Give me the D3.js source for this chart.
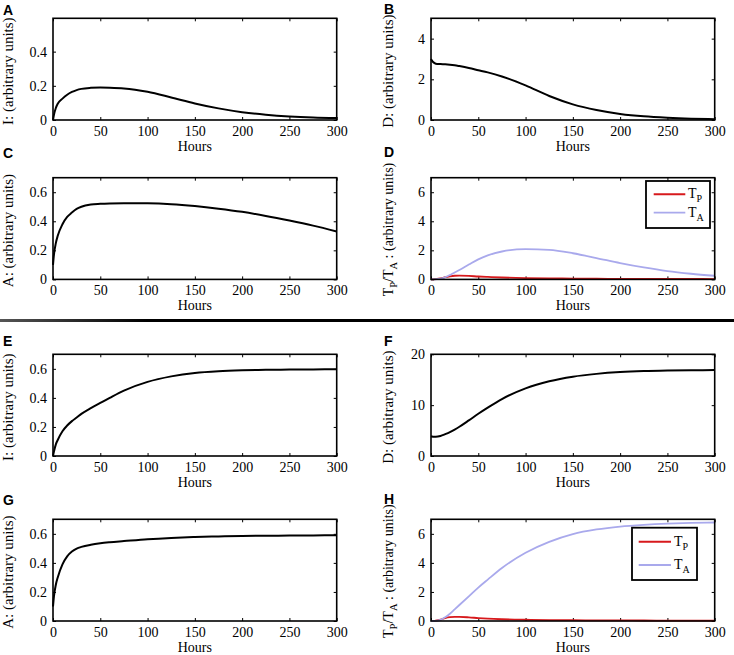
<!DOCTYPE html>
<html>
<head>
<meta charset="utf-8">
<script src="https://cdn.jsdelivr.net/npm/d3@7"></script>
<style>
  html, body { margin: 0; padding: 0; background: #fff; }
  svg { display: block; }
  text { font-family: "Liberation Serif", "Times New Roman", serif; }
</style>
</head>
<body>
<svg id="chart" width="734" height="655"></svg>
<script>
// ---------- data ----------
const hours = [0, 1, 3, 5, 10, 15, 20, 25, 30, 40, 50, 60, 75, 100, 125, 150, 175, 200, 225, 250, 275, 300];
const xTicks = [0, 50, 100, 150, 200, 250, 300];

const panelA_I = [0, 0.03, 0.07, 0.095, 0.125, 0.148, 0.164, 0.175, 0.182, 0.188, 0.19, 0.189, 0.185, 0.165, 0.132, 0.097, 0.068, 0.046, 0.031, 0.021, 0.015, 0.012];
const panelB_D = [3.0, 2.92, 2.82, 2.77, 2.75, 2.74, 2.72, 2.69, 2.65, 2.56, 2.45, 2.34, 2.14, 1.7, 1.18, 0.77, 0.49, 0.3, 0.18, 0.11, 0.065, 0.04];
const panelC_A = [0.1, 0.17, 0.25, 0.3, 0.38, 0.43, 0.46, 0.485, 0.5, 0.515, 0.52, 0.523, 0.525, 0.524, 0.518, 0.505, 0.487, 0.465, 0.437, 0.405, 0.37, 0.33];
const panelD_TP = [0, 0, 0.005, 0.02, 0.07, 0.15, 0.21, 0.25, 0.26, 0.24, 0.2, 0.17, 0.13, 0.09, 0.07, 0.055, 0.045, 0.04, 0.035, 0.03, 0.03, 0.025];
const panelD_TA = [0, 0, 0, 0.01, 0.05, 0.15, 0.3, 0.48, 0.65, 1.02, 1.38, 1.65, 1.92, 2.08, 2.03, 1.8, 1.47, 1.12, 0.82, 0.57, 0.39, 0.25];
const panelE_I = [0, 0.03, 0.08, 0.11, 0.17, 0.21, 0.24, 0.265, 0.29, 0.33, 0.365, 0.4, 0.45, 0.51, 0.548, 0.572, 0.584, 0.59, 0.593, 0.595, 0.596, 0.597];
const panelF_D = [3.9, 3.85, 3.8, 3.8, 3.95, 4.3, 4.7, 5.2, 5.75, 7.0, 8.3, 9.5, 11.2, 13.3, 14.7, 15.6, 16.15, 16.5, 16.7, 16.8, 16.85, 16.9];
const panelG_A = [0.1, 0.17, 0.25, 0.3, 0.39, 0.445, 0.478, 0.498, 0.51, 0.525, 0.535, 0.542, 0.55, 0.563, 0.572, 0.578, 0.582, 0.585, 0.587, 0.588, 0.589, 0.59];
const panelH_TP = [0, 0, 0.01, 0.03, 0.1, 0.2, 0.26, 0.28, 0.28, 0.25, 0.2, 0.16, 0.12, 0.085, 0.065, 0.055, 0.045, 0.04, 0.035, 0.03, 0.03, 0.03];
const panelH_TA = [0, 0, 0, 0.01, 0.08, 0.25, 0.5, 0.8, 1.1, 1.7, 2.3, 2.85, 3.65, 4.7, 5.45, 5.98, 6.3, 6.5, 6.62, 6.7, 6.75, 6.78];

const yTicksA = [0, 0.2, 0.4];
const yTicksFrac = [0, 0.2, 0.4, 0.6];
const yTicksB = [0, 2, 4];
const yTicksT = [0, 2, 4, 6];
const yTicksF = [0, 10, 20];
const legendLabels = ["P", "A"];

// ---------- layout ----------
const svg = d3.select("#chart");
const SERIF = '"Liberation Serif", "Times New Roman", serif';
const SANS = '"Liberation Sans", Arial, sans-serif';
const W = 283.7, H = 101.7;
const colX = [53, 431];
const rowY = [18.3, 177.7, 354.3, 519.3];
const RED = "#d7191c", LAV = "#a9a9ec";

const panels = [
  {letter: "A", col: 0, row: 0, ymax: 0.595, ticks: yTicksA, fmt: d3.format(".1f"), label: "I: (arbitrary units)", series: [{v: panelA_I, c: "#000"}], lx: 3, ly: 15},
  {letter: "B", col: 1, row: 0, ymax: 5, ticks: yTicksB, fmt: d3.format("d"), label: "D: (arbitrary units)", series: [{v: panelB_D, c: "#000"}], lx: 384, ly: 14},
  {letter: "C", col: 0, row: 1, ymax: 0.7, ticks: yTicksFrac, fmt: d3.format(".1f"), label: "A: (arbitrary units)", series: [{v: panelC_A, c: "#000"}], lx: 3, ly: 158},
  {letter: "D", col: 1, row: 1, ymax: 7, ticks: yTicksT, fmt: d3.format("d"), label: "T", series: [{v: panelD_TP, c: RED}, {v: panelD_TA, c: LAV}], lx: 384, ly: 157,
     legend: {x: 646, y: 181, w: 64, h: 47, l1: 194.3, l2: 212.7, lx0: 653.7, lx1: 685.3, tx: 688}},
  {letter: "E", col: 0, row: 2, ymax: 0.7, ticks: yTicksFrac, fmt: d3.format(".1f"), label: "I: (arbitrary units)", series: [{v: panelE_I, c: "#000"}], lx: 3, ly: 346},
  {letter: "F", col: 1, row: 2, ymax: 20, ticks: yTicksF, fmt: d3.format("d"), label: "D: (arbitrary units)", series: [{v: panelF_D, c: "#000"}], lx: 384, ly: 346},
  {letter: "G", col: 0, row: 3, ymax: 0.7, ticks: yTicksFrac, fmt: d3.format(".1f"), label: "A: (arbitrary units)", series: [{v: panelG_A, c: "#000"}], lx: 3, ly: 505},
  {letter: "H", col: 1, row: 3, ymax: 7, ticks: yTicksT, fmt: d3.format("d"), label: "T", series: [{v: panelH_TP, c: RED}, {v: panelH_TA, c: LAV}], lx: 384, ly: 504,
     legend: {x: 632, y: 527.7, w: 65, h: 52.3, l1: 541.7, l2: 565, lx0: 638.7, lx1: 671, tx: 674}}
];

function styleTicks(a) {
  a.select(".domain").remove();
  a.attr("font-family", null).attr("font-size", null);
  a.selectAll("text").style("font-family", SERIF).style("font-size", "14px").attr("fill", "#000");
  a.selectAll("line").attr("stroke", "#000");
}

panels.forEach(p => {
  const x0 = colX[p.col], y0 = rowY[p.row];
  const g = svg.append("g").attr("transform", `translate(${x0},${y0})`);
  const x = d3.scaleLinear().domain([0, 300]).range([0, W]);
  const y = d3.scaleLinear().domain([0, p.ymax]).range([H, 0]);

  // inner ticks (MATLAB style) on all four sides
  const tl = 3;
  g.append("g").attr("transform", `translate(0,${H})`)
    .call(d3.axisBottom(x).tickValues(xTicks).tickSizeInner(-tl).tickSizeOuter(0).tickPadding(6).tickFormat(d3.format("d")))
    .call(styleTicks);
  g.append("g")
    .call(d3.axisTop(x).tickValues(xTicks).tickSizeInner(-tl).tickSizeOuter(0).tickFormat(""))
    .call(styleTicks);
  g.append("g")
    .call(d3.axisLeft(y).tickValues(p.ticks).tickSizeInner(-tl).tickSizeOuter(0).tickPadding(6).tickFormat(d => d === 0 ? "0" : p.fmt(d)))
    .call(styleTicks);
  g.append("g").attr("transform", `translate(${W},0)`)
    .call(d3.axisRight(y).tickValues(p.ticks).tickSizeInner(-tl).tickSizeOuter(0).tickFormat(""))
    .call(styleTicks);

  // lines
  const line = d3.line().x((d, i) => x(hours[i])).y(d => y(d)).curve(d3.curveMonotoneX);
  p.series.forEach(s => {
    g.append("path").datum(s.v).attr("d", line).attr("fill", "none")
      .attr("stroke", s.c).attr("stroke-width", s.c === "#000" ? 2 : 1.8);
  });

  // frame
  g.append("rect").attr("x", 0).attr("y", 0).attr("width", W).attr("height", H)
    .attr("fill", "none").attr("stroke", "#000").attr("stroke-width", 1.6);

  // x label
  g.append("text").attr("x", W / 2).attr("y", H + 31).attr("text-anchor", "middle")
    .style("font-family", SERIF).style("font-size", "14px").text("Hours");

  // y label
  const isT = p.label === "T";
  const off = p.col === 0 ? 40 : 38;
  const yl = g.append("text").attr("transform", `translate(${-off},${isT ? H / 2 + 1 : H / 2 + 2}) rotate(-90)`)
    .attr("text-anchor", "middle").style("font-family", SERIF).style("font-size", isT ? "14px" : "15px");
  if (isT) {
    yl.append("tspan").text("T");
    yl.append("tspan").style("font-size", "10.5px").attr("dy", 4).text(legendLabels[0]);
    yl.append("tspan").attr("dy", -4).text("/T");
    yl.append("tspan").style("font-size", "10.5px").attr("dy", 4).text(legendLabels[1]);
    yl.append("tspan").attr("dy", -4).text(" : (arbitrary units)");
  } else {
    yl.text(p.label);
  }

  // panel letter
  svg.append("text").attr("x", p.lx).attr("y", p.ly)
    .style("font-family", SANS).style("font-weight", "bold").style("font-size", "14px").text(p.letter);

  // legend
  if (p.legend) {
    const L = p.legend;
    svg.append("rect").attr("x", L.x).attr("y", L.y).attr("width", L.w).attr("height", L.h)
      .attr("fill", "#fff").attr("stroke", "#000").attr("stroke-width", 1.8);
    [[L.l1, RED], [L.l2, LAV]].forEach(([ly, c], i) => {
      svg.append("line").attr("x1", L.lx0).attr("x2", L.lx1).attr("y1", ly).attr("y2", ly)
        .attr("stroke", c).attr("stroke-width", i === 0 ? 2 : 1.8);
      const t = svg.append("text").attr("x", L.tx).attr("y", ly + 4)
        .style("font-family", SERIF).style("font-size", "14px");
      t.append("tspan").text("T");
      t.append("tspan").style("font-size", "10px").attr("dy", 4).text(legendLabels[i]);
    });
  }
});

// separator line between the two figure halves
const grad = svg.append("defs").append("linearGradient").attr("id", "sep")
  .attr("x1", "0%").attr("x2", "100%");
grad.append("stop").attr("offset", "0%").attr("stop-color", "#555");
grad.append("stop").attr("offset", "20%").attr("stop-color", "#000");
grad.append("stop").attr("offset", "100%").attr("stop-color", "#000");
svg.append("rect").attr("x", 0).attr("y", 319).attr("width", 734).attr("height", 3).attr("fill", "url(#sep)");
</script>
</body>
</html>
